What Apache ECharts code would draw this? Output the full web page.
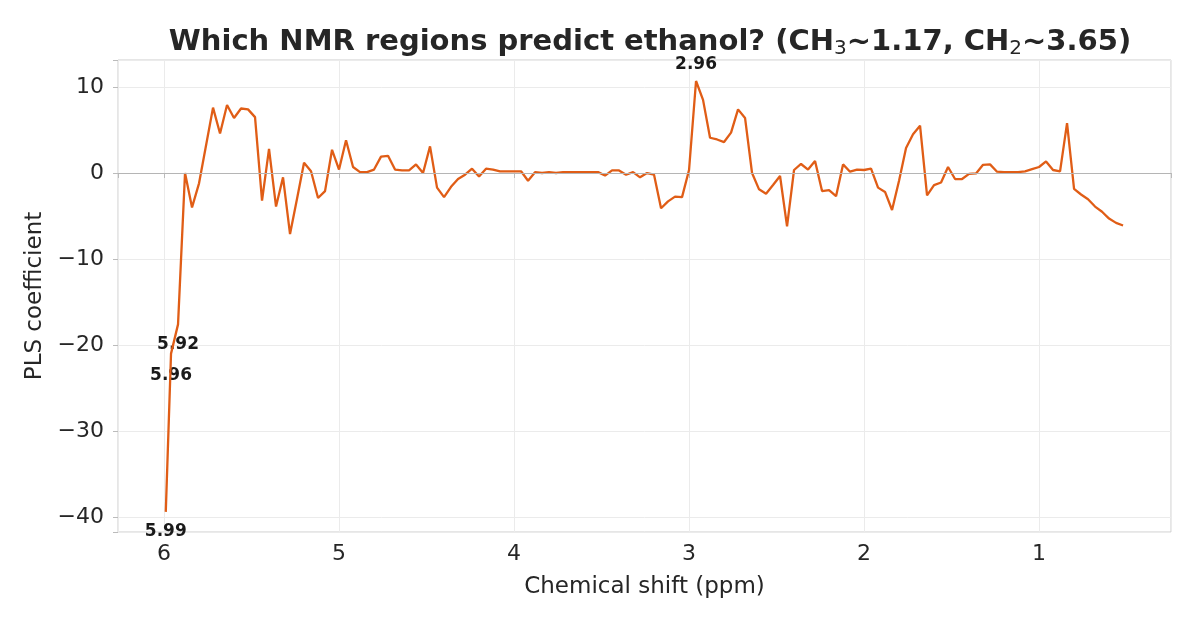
<!DOCTYPE html>
<html style="height: 100%">
  <head>
    <meta charset="UTF-8">
  </head>
  <body style="height: 100%; margin: 0">
    <div id="container" style="width: 1196px; height: 624px"></div>
    <script src="https://cdn.jsdelivr.net/npm/echarts@6/dist/echarts.min.js"></script>
    <script>
    var dom = document.getElementById('container');
    var myChart = echarts.init(dom, null, { renderer: 'canvas' });

    // chemical shift of each bin (ppm)
    let shifts = [5.99, 5.96, 5.92, 5.88, 5.84, 5.80, 5.76, 5.72, 5.68, 5.64, 5.60, 5.56, 5.52, 5.48, 5.44, 5.40,
      5.36, 5.32, 5.28, 5.24, 5.20, 5.16, 5.12, 5.08, 5.04, 5.00, 4.96, 4.92, 4.88, 4.84, 4.80, 4.76,
      4.72, 4.68, 4.64, 4.60, 4.56, 4.52, 4.48, 4.44, 4.40, 4.36, 4.32, 4.28, 4.24, 4.20, 4.16, 4.12,
      4.08, 4.04, 4.00, 3.96, 3.92, 3.88, 3.84, 3.80, 3.76, 3.72, 3.68, 3.64, 3.60, 3.56, 3.52, 3.48,
      3.44, 3.40, 3.36, 3.32, 3.28, 3.24, 3.20, 3.16, 3.12, 3.08, 3.04, 3.00, 2.96, 2.92, 2.88, 2.84,
      2.80, 2.76, 2.72, 2.68, 2.64, 2.60, 2.56, 2.52, 2.48, 2.44, 2.40, 2.36, 2.32, 2.28, 2.24, 2.20,
      2.16, 2.12, 2.08, 2.04, 2.00, 1.96, 1.92, 1.88, 1.84, 1.80, 1.76, 1.72, 1.68, 1.64, 1.60, 1.56,
      1.52, 1.48, 1.44, 1.40, 1.36, 1.32, 1.28, 1.24, 1.20, 1.16, 1.12, 1.08, 1.04, 1.00, 0.96, 0.92,
      0.88, 0.84, 0.80, 0.76, 0.72, 0.68, 0.64, 0.60, 0.56, 0.52];

    // PLS regression coefficients
    let coefs = [-39.4, -21.0, -17.6, 0.0, -4.0, -1.2, 3.2, 7.6, 4.6, 7.9, 6.4, 7.5, 7.4, 6.5, -3.2, 2.8,
      -3.9, -0.5, -7.1, -3.0, 1.2, 0.2, -2.9, -2.1, 2.7, 0.4, 3.8, 0.7, 0.1, 0.1, 0.4, 1.9,
      2.0, 0.4, 0.3, 0.3, 1.0, 0.0, 3.1, -1.7, -2.8, -1.6, -0.7, -0.2, 0.5, -0.4, 0.5, 0.4,
      0.2, 0.2, 0.2, 0.2, -0.9, 0.1, 0.0, 0.1, 0.0, 0.1, 0.1, 0.1, 0.1, 0.1, 0.1, -0.3,
      0.3, 0.3, -0.2, 0.1, -0.5, 0.0, -0.2, -4.1, -3.3, -2.75, -2.8, 0.35, 10.7, 8.5, 4.1, 3.9,
      3.6, 4.7, 7.4, 6.4, 0.0, -1.9, -2.4, -1.4, -0.35, -6.2, 0.35, 1.05, 0.4, 1.4, -2.1, -2.0,
      -2.7, 1.0, 0.15, 0.4, 0.35, 0.5, -1.7, -2.2, -4.3, -0.9, 2.9, 4.5, 5.5, -2.6, -1.4, -1.1,
      0.7, -0.7, -0.7, -0.1, -0.05, 0.95, 1.0, 0.15, 0.1, 0.1, 0.1, 0.2, 0.45, 0.7, 1.35, 0.35,
      0.2, 5.8, -1.85, -2.5, -3.05, -3.9, -4.5, -5.3, -5.8, -6.1];

    // bins that get a text annotation, and where the text sits
    let annotated = [5.99, 5.96, 5.92, 2.96];
    let annotatedPos = ['bottom', 'bottom', 'bottom', 'top'];

    let textColor = '#262626';
    let fontName = 'DejaVu Sans';

    let lineData = shifts.map(function (s, i) { return [s, coefs[i]]; });

    let noteData = annotated.map(function (s, k) {
      let i = shifts.indexOf(s);
      return {
        value: [s, coefs[i]],
        label: {
          position: annotatedPos[k],
          distance: annotatedPos[k] === 'top' ? 7 : (s === 5.96 ? 13 : 11)
        }
      };
    });

    function tickText(v) {
      if (Math.abs(v - Math.round(v)) > 1e-6) return '';
      return String(v).replace('-', '\u2212');
    }

    var option = {
      animation: false,
      backgroundColor: '#ffffff',
      title: {
        text: '{t|Which NMR regions predict ethanol? (CH}{s|3}{t|~1.17, CH}{s|2}{t|~3.65)}',
        left: 645,
        textAlign: 'center',
        top: 20,
        textStyle: {
          rich: {
            t: { fontFamily: fontName, fontWeight: 'bold', fontSize: 29, color: textColor },
            s: { fontFamily: fontName, fontWeight: 'normal', fontSize: 20, color: textColor, padding: [14, 0, 0, 0] }
          }
        }
      },
      grid: {
        left: 118,
        right: 25,
        top: 60,
        bottom: 92,
        show: true,
        borderColor: '#cccccc',
        borderWidth: 1
      },
      xAxis: {
        type: 'value',
        inverse: true,
        min: 0.246,
        max: 6.263,
        name: 'Chemical shift (ppm)',
        nameLocation: 'middle',
        nameGap: 44,
        nameTextStyle: { fontFamily: fontName, fontSize: 23, color: textColor },
        axisLine: { show: false },
        axisTick: { show: true, length: 5, lineStyle: { color: '#bbbbbb' } },
        axisLabel: { fontFamily: fontName, fontSize: 22, color: textColor, margin: 11, formatter: tickText },
        splitLine: { show: true, lineStyle: { color: '#ebebeb', width: 1 } }
      },
      yAxis: {
        type: 'value',
        min: -41.74,
        max: 13.14,
        name: 'PLS coefficient',
        nameLocation: 'middle',
        nameGap: 71,
        nameTextStyle: { fontFamily: fontName, fontSize: 23, color: textColor },
        axisLine: { show: false },
        axisTick: { show: true, length: 5, lineStyle: { color: '#bbbbbb' } },
        axisLabel: { fontFamily: fontName, fontSize: 22, color: textColor, margin: 14, formatter: tickText },
        splitLine: { show: true, lineStyle: { color: '#ebebeb', width: 1 } }
      },
      series: [
        {
          type: 'line',
          data: lineData,
          symbol: 'none',
          lineStyle: { color: '#e05d16', width: 2.3 },
          itemStyle: { color: '#e05d16' },
          markLine: {
            silent: true,
            symbol: 'none',
            label: { show: false },
            lineStyle: { color: '#b5b5b5', width: 1.2, type: 'solid' },
            data: [{ yAxis: 0 }]
          },
          z: 3
        },
        {
          type: 'scatter',
          data: noteData,
          symbol: 'circle',
          symbolSize: 1,
          itemStyle: { color: '#ffffff', opacity: 1, borderWidth: 0 },
          label: {
            show: true,
            formatter: function (p) { return p.value[0].toFixed(2); },
            fontFamily: fontName,
            fontWeight: 'bold',
            fontSize: 17,
            color: '#1a1a1a',
            opacity: 1
          },
          labelLayout: { hideOverlap: false },
          z: 2
        }
      ]
    };

    myChart.setOption(option);
    window.addEventListener('resize', myChart.resize);
    </script>
  </body>
</html>
